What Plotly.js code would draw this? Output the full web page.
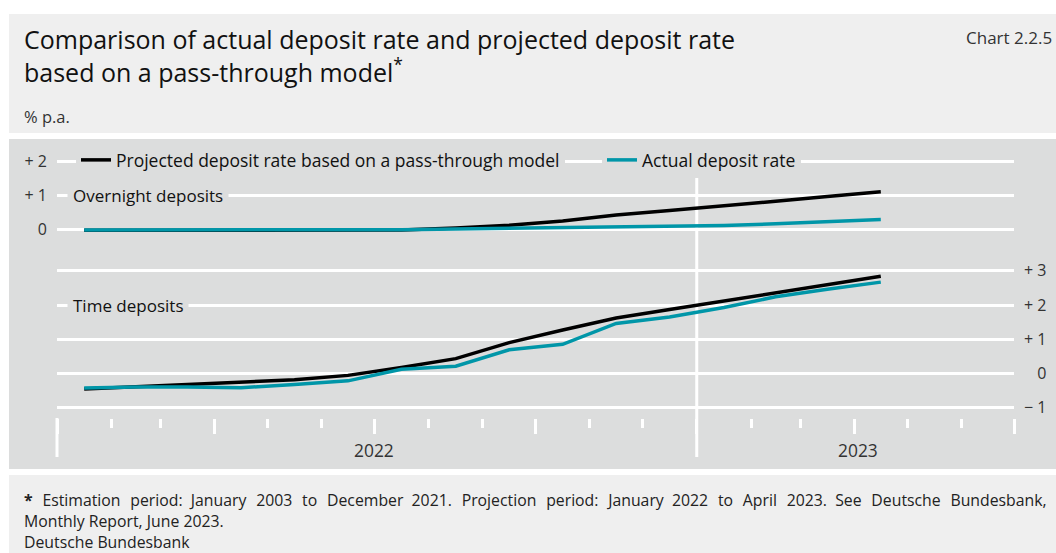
<!DOCTYPE html>
<html>
<head>
<meta charset="utf-8">
<script src="https://cdn.plot.ly/plotly-3.0.1.min.js"></script>
<style>
html,body{margin:0;padding:0;background:#ffffff;}
#chart{width:1056px;height:553px;}
</style>
</head>
<body>
<div id="chart"></div>
<script>
// ---------- data ----------
const months = ['2022-01','2022-02','2022-03','2022-04','2022-05','2022-06','2022-07','2022-08',
                '2022-09','2022-10','2022-11','2022-12','2023-01','2023-02','2023-03','2023-04'];
const overnightProjected = [-0.03,-0.03,-0.03,-0.03,-0.03,-0.03,-0.02,0.04,0.12,0.24,0.42,0.55,0.68,0.82,0.96,1.10];
const overnightActual    = [-0.02,-0.02,-0.02,-0.02,-0.02,-0.02,-0.01,0.01,0.03,0.04,0.06,0.08,0.11,0.16,0.23,0.29];
const timeProjected      = [-0.46,-0.39,-0.33,-0.27,-0.19,-0.06,0.17,0.43,0.90,1.27,1.62,1.87,2.12,2.37,2.61,2.84];
const timeActual         = [-0.43,-0.40,-0.40,-0.42,-0.33,-0.22,0.12,0.21,0.69,0.85,1.46,1.65,1.93,2.24,2.46,2.67];
const seriesNames = ['Projected deposit rate based on a pass-through model','Actual deposit rate'];
const panelLabels = ['Overnight deposits','Time deposits'];
const leftTickVals = [0,1,2];
const leftTickText = ['0','+ 1','+ 2'];
const HIDE = '<span style="color:rgba(0,0,0,0)">+ </span>';
const rightTickVals = [-1,0,1,2,3];
const rightTickText = ['\u2212 1', HIDE + '0', '+ 1', '+ 2', '+ 3'];
const yearLabels = ['2022','2023'];
const yearLabelDates = ['2022-07-01','2023-04-03'];
const yearBoundary = '2023-01-01';
const footnoteLine1 = '* Estimation period: January 2003 to December 2021. Projection period: January 2022 to April 2023. See Deutsche Bundesbank,';
const footnoteLine2 = 'Monthly Report, June 2023.';
const sourceText = 'Deutsche Bundesbank';

// ---------- style ----------
const FONT = '"Open Sans", "Noto Sans", sans-serif';
const BLACK = '#000000';
const TEAL = '#0096a8';
const PANEL = '#dcdddd';
const LIGHT = '#efefef';
const W = 1056, H = 553;
const M = {l:57, r:42, t:140, b:135};
const PH = H - M.t - M.b, PW = W - M.l - M.r;
const px = v => (v - M.l) / PW;          // page px -> paper x
const py = v => (H - M.b - v) / PH;      // page px -> paper y

function lineTrace(y, color, axis, name, legend, show){
  return {x: months, y: y, type:'scatter', mode:'lines',
          xperiod:'M1', xperiodalignment:'middle',
          line:{color:color, width:3.5}, yaxis:axis, name:name,
          legend:legend, showlegend:show, hoverinfo:'skip'};
}
const data = [
  lineTrace(overnightProjected, BLACK, 'y', seriesNames[0], 'legend', true),
  lineTrace(overnightActual, TEAL, 'y', seriesNames[1], 'legend2', true),
  lineTrace(timeProjected, BLACK, 'y2', seriesNames[0], 'legend', false),
  lineTrace(timeActual, TEAL, 'y2', seriesNames[1], 'legend2', false)
];

// widen word gaps of the first footnote line to imitate the justified text
const words = footnoteLine1.replace(/^\* /, '<b>*</b> ').split(' ');
const justified = words.map((w, i) => i === 0 ? w : (i % 4 === 3 ? ' \u00A0' : ' \u00A0\u200A') + w).join('');

const annotations = [
  {text:'% p.a.', xref:'paper', x:px(22), xanchor:'left', yref:'paper', y:py(116), yanchor:'middle',
   showarrow:false, font:{size:16.5, color:'#333'}},
  {text:'Chart 2.2.5', xref:'paper', x:px(1054), xanchor:'right', yref:'paper', y:py(37), yanchor:'middle',
   showarrow:false, font:{size:17, color:'#333'}},
  {text:panelLabels[0], xref:'paper', x:0, xshift:10, xanchor:'left', yref:'y', y:1, yanchor:'middle',
   showarrow:false, bgcolor:PANEL, borderpad:5, font:{size:17, color:'#111'}},
  {text:panelLabels[1], xref:'paper', x:0, xshift:10, xanchor:'left', yref:'y2', y:2, yanchor:'middle',
   showarrow:false, bgcolor:PANEL, borderpad:5, font:{size:17, color:'#111'}},
  {text:justified + '<br>' + footnoteLine2,
   xref:'paper', x:px(22), xanchor:'left', align:'left', yref:'paper', y:py(510.5), yanchor:'middle',
   showarrow:false, font:{size:15.8, color:'#222'}},
  {text:sourceText, xref:'paper', x:px(22), xanchor:'left', yref:'paper', y:py(542), yanchor:'middle',
   showarrow:false, font:{size:15.8, color:'#222'}}
];
yearLabels.forEach((t,i) => annotations.push({
  text:t, xref:'x', x:yearLabelDates[i], xanchor:'center', yref:'paper', y:py(450), yanchor:'middle',
  showarrow:false, font:{size:17.4, color:'#333'}}));

const shapes = [
  {type:'rect', xref:'paper', yref:'paper', x0:px(9), x1:px(1056), y0:py(133), y1:py(14), fillcolor:LIGHT, line:{width:0}, layer:'below'},
  {type:'rect', xref:'paper', yref:'paper', x0:px(9), x1:px(1056), y0:py(469), y1:py(139), fillcolor:PANEL, line:{width:0}, layer:'below'},
  {type:'rect', xref:'paper', yref:'paper', x0:px(9), x1:px(1056), y0:py(553), y1:py(475), fillcolor:LIGHT, line:{width:0}, layer:'below'},
  {type:'line', xref:'x', yref:'paper', x0:yearBoundary, x1:yearBoundary, y0:py(457), y1:py(176), line:{color:'#ffffff', width:3}, layer:'below'},
  {type:'line', xref:'paper', yref:'paper', x0:0, x1:0, y0:py(457), y1:py(418), line:{color:'#ffffff', width:3}, layer:'below'}
];

const layout = {
  width:W, height:H,
  margin:{l:M.l, r:M.r, t:M.t, b:M.b, pad:0},
  paper_bgcolor:'#ffffff', plot_bgcolor:'rgba(0,0,0,0)',
  font:{family:FONT, size:15, color:'#222'},
  title:{text:'Comparison of actual deposit rate and projected deposit rate<br>based on a pass-through model<sup>*</sup>',
         xref:'container', x:24/W, xanchor:'left', yref:'container', y:1-49/H, yanchor:'top',
         font:{size:25, color:'#111'}},
  xaxis:{type:'date', range:['2022-01-01','2023-07-01'], showgrid:false, zeroline:false, showline:false,
         ticks:'outside', tick0:'2022-01-01', dtick:'M3', ticklen:15, tickwidth:3, tickcolor:'#ffffff',
         showticklabels:false, fixedrange:true,
         minor:{ticks:'outside', tick0:'2022-01-01', dtick:'M1', ticklen:9, tickwidth:3, tickcolor:'#ffffff', showgrid:false}},
  yaxis:{range:[-5.525, 2.615], tickmode:'array', tickvals:leftTickVals, ticktext:leftTickText,
         showgrid:true, gridcolor:'#ffffff', gridwidth:3, zeroline:false, showline:false, ticks:'',
         ticklabelstandoff:9, tickfont:{size:16, color:'#333'}, fixedrange:true},
  yaxis2:{range:[-1.308, 6.832], overlaying:'y', side:'right', tickmode:'array', tickvals:rightTickVals, ticktext:rightTickText,
          showgrid:true, gridcolor:'#ffffff', gridwidth:3, zeroline:false, showline:false, ticks:'',
          ticklabelstandoff:9, tickfont:{size:16, color:'#333'}, fixedrange:true},
  legend:{x:px(76), xanchor:'left', y:py(160), yanchor:'middle', orientation:'h', bgcolor:PANEL, borderwidth:0,
          font:{size:17.5, color:'#111'}},
  legend2:{x:px(602), xanchor:'left', y:py(160), yanchor:'middle', orientation:'h', bgcolor:PANEL, borderwidth:0,
          font:{size:17.5, color:'#111'}},
  shapes:shapes,
  annotations:annotations
};

Plotly.newPlot('chart', data, layout, {displayModeBar:false, staticPlot:true});
</script>
</body>
</html>
